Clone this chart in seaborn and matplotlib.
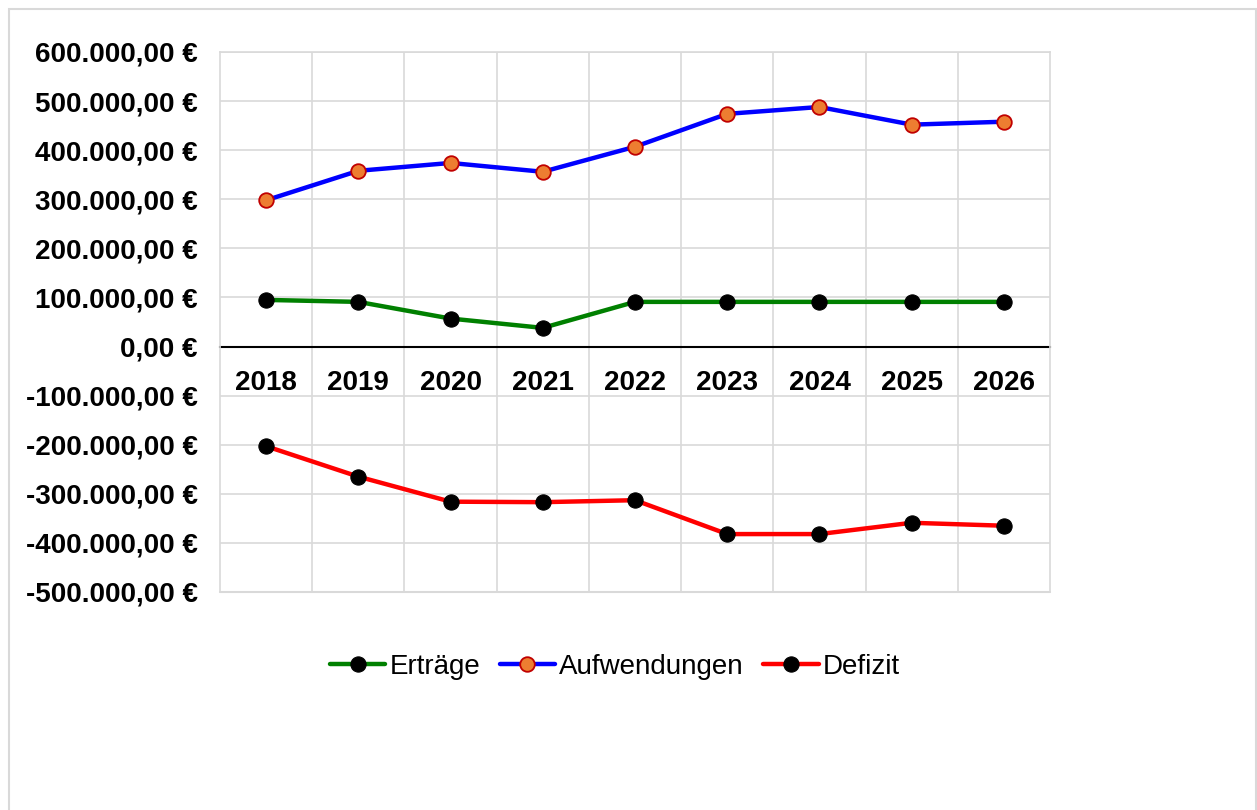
import pandas as pd
import matplotlib.pyplot as plt
import matplotlib.patches as patches
import seaborn as sns

# Data
years = [2018, 2019, 2020, 2021, 2022, 2023, 2024, 2025, 2026]
ertraege = [95000, 91000, 57000, 38000, 91000, 91000, 91000, 91000, 91000]
aufwendungen = [298000, 358000, 374000, 356000, 407000, 474000, 488000, 452000, 458000]
defizit = [-203000, -265000, -316000, -317000, -313000, -382000, -382000, -359000, -365000]

sns.set_theme(style='white')
plt.rcParams['font.family'] = ['Liberation Sans', 'DejaVu Sans']
plt.rcParams['text.color'] = 'black'
plt.rcParams['xtick.color'] = 'black'
plt.rcParams['ytick.color'] = 'black'

df = pd.DataFrame({'Jahr': years, 'Erträge': ertraege,
                   'Aufwendungen': aufwendungen, 'Defizit': defizit})

fig = plt.figure(figsize=(12.57, 8.10), dpi=100)
ax = fig.add_axes([220 / 1257, 1 - 592 / 810, 830 / 1257, 540 / 810])

# outer chart border
fig.patches.append(patches.Rectangle((9 / 1257, -0.05), 1247 / 1257, 1.05 - 9 / 810,
                                     transform=fig.transFigure, fill=False,
                                     edgecolor='#d9d9d9', linewidth=1.5))

sns.lineplot(data=df, x='Jahr', y='Erträge', ax=ax, color='#008000', linewidth=3.2,
             marker='o', markersize=11, markerfacecolor='black',
             markeredgecolor='black', label='Erträge', zorder=3)
sns.lineplot(data=df, x='Jahr', y='Aufwendungen', ax=ax, color='#0000ff', linewidth=3.2,
             marker='o', markersize=10.5, markerfacecolor='#ed7d31',
             markeredgecolor='#c00000', markeredgewidth=1.3, label='Aufwendungen', zorder=3)
sns.lineplot(data=df, x='Jahr', y='Defizit', ax=ax, color='#ff0000', linewidth=3.2,
             marker='o', markersize=11, markerfacecolor='black',
             markeredgecolor='black', label='Defizit', zorder=3)

ax.set_xlim(2017.5, 2026.5)
ax.set_ylim(-500000, 600000)
ax.set_xticks(years)
ax.set_xticks([y + 0.5 for y in years[:-1]], minor=True)
ax.set_yticks(range(-500000, 600001, 100000))


def euro(v, pos=None):
    s = f"{v:,.2f}".replace(',', 'X').replace('.', ',').replace('X', '.')
    return s + ' €'


ax.yaxis.set_major_formatter(plt.FuncFormatter(euro))
ax.set_xticklabels([str(y) for y in years])

ax.grid(True, axis='y', which='major', color='#d9d9d9', linewidth=1.2)
ax.grid(True, axis='x', which='minor', color='#d9d9d9', linewidth=1.2)
ax.grid(False, axis='x', which='major')
ax.set_axisbelow(True)
# bottom frame line of the plot area
ax.axhline(-500000, color='#d9d9d9', linewidth=1.5, clip_on=False, zorder=1)

for side in ['top', 'left', 'right']:
    ax.spines[side].set_color('#d9d9d9')
    ax.spines[side].set_linewidth(1.2)
ax.spines['bottom'].set_position(('data', 0))
ax.spines['bottom'].set_color('black')
ax.spines['bottom'].set_linewidth(1.5)
ax.spines['bottom'].set_zorder(2)

ax.tick_params(axis='x', length=0, pad=17, labelsize=20)
ax.tick_params(axis='y', length=0, pad=16, labelsize=20)
for lab in ax.get_xticklabels() + ax.get_yticklabels():
    lab.set_fontweight('bold')

ax.set_xlabel('')
ax.set_ylabel('')
ax.get_legend().remove()

handles, labels = ax.get_legend_handles_labels()
fig.legend(handles, labels, loc='center', bbox_to_anchor=(615 / 1257, 1 - 667 / 810),
           ncol=3, frameon=False, fontsize=20, handlelength=2.0,
           handletextpad=0.15, columnspacing=0.7)

fig.savefig('out.png', dpi=100, facecolor='white')
